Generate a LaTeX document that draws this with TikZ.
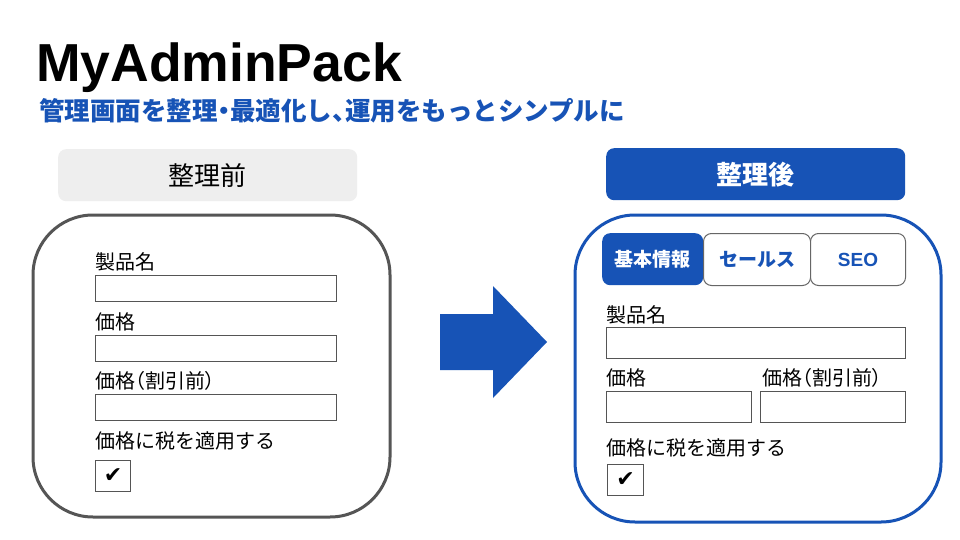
\documentclass[tikz,border=0pt]{standalone}
\usepackage{fontspec}
\usepackage{tikz}
\usepackage{xcolor}
\setmainfont{Liberation Sans}
\newfontfamily\jp{Noto Sans CJK JP}
\newfontfamily\sym{DejaVu Sans}
\usetikzlibrary{positioning}
\definecolor{MAP_Blue}{HTML}{1753B6}
\definecolor{MAP_Gray}{HTML}{555555}
\definecolor{MAP_Head}{HTML}{EEEEEE}
\newcommand{\narrow}[1]{{\addfontfeature{RawFeature=+palt}#1}}
\tikzset{
  fieldbox/.style={draw=MAP_Gray, line width=1pt, fill=white, anchor=north west, inner sep=0pt},
  fieldlabel/.style={font=\jp\fontsize{20}{20}\selectfont, inner sep=0pt, anchor=west},
  headbox/.style={rounded corners=8pt, anchor=north west, minimum width=299pt, minimum height=52pt, inner sep=0pt, font=\jp\fontsize{26}{26}\selectfont},
  tabbox/.style={rounded corners=8pt, anchor=north west, minimum height=52pt, inner sep=0pt, font=\jp\bfseries\fontsize{19}{19}\selectfont},
  panel/.style={line width=3pt, rounded corners=60pt},
  checkbox/.style={fieldbox, font=\sym\fontsize{22}{22}\selectfont}
}

\begin{document}
\begin{tikzpicture}[x=1pt, y=-1pt]
  \useasboundingbox[fill=white] (0,0) rectangle (960,540);

  \node[anchor=base west, inner sep=0pt, font=\bfseries\fontsize{53.5}{53.5}\selectfont] (title) at (36,82) {MyAdminPack};
  \node[anchor=west, inner sep=0pt, text=MAP_Blue, font=\jp\bfseries\fontsize{25.5}{25.5}\selectfont] (subtitle) at (39,111) {管理画面を整理\narrow{・}最適化し\narrow{、}運用をもっとシンプルに};

  \node[headbox, fill=MAP_Head] (beforeHead) at (58,149) {整理前};
  \node[headbox, fill=MAP_Blue, text=white, font=\jp\bfseries\fontsize{26}{26}\selectfont] (afterHead) at (606,148) {整理後};

  \draw[panel, MAP_Gray] (33,215) rectangle (390,517);
  \draw[panel, MAP_Blue] (575,215) rectangle (941,522);

  \foreach \y/\txt/\nm in {262/製品名/Name, 322/価格/Price, 381/{\narrow{価格（割引前）}}/List} {
    \node[fieldlabel] (old\nm Label) at (95,\y) {\txt};
    \node[fieldbox, minimum width=241pt, minimum height=26pt] (old\nm Box) at (95,{\y+13}) {};
  }
  \node[fieldlabel] (oldTaxLabel) at (95,441) {価格に税を適用する};
  \node[checkbox, minimum width=35pt, minimum height=31pt] (oldTaxBox) at (95,460) {✔};

  \fill[MAP_Blue] (440,314) -- (493,314) -- (493,286) -- (547,342) -- (493,398) -- (493,370) -- (440,370) -- cycle;

  \node[tabbox, fill=MAP_Blue, text=white, minimum width=101pt] (tabBasic) at (602,233) {基本情報};
  \node[tabbox, draw=MAP_Gray!90, fill=white, text=MAP_Blue, line width=1pt, minimum width=107pt] (tabSales) at (703,233) {セールス};
  \node[tabbox, draw=MAP_Gray!90, fill=white, text=MAP_Blue, line width=1pt, minimum width=95pt, font=\bfseries\fontsize{19}{19}\selectfont] (tabSeo) at (810,233) {SEO};

  \node[fieldlabel] (newNameLabel) at (606,315) {製品名};
  \node[fieldbox, minimum width=299pt, minimum height=31pt] (newNameBox) at (606,327) {};
  \node[fieldlabel] (newPriceLabel) at (606,378) {価格};
  \node[fieldlabel] (newListLabel) at (762,378) {\narrow{価格（割引前）}};
  \node[fieldbox, minimum width=145pt, minimum height=31pt] (newPriceBox) at (606,391) {};
  \node[fieldbox, minimum width=145pt, minimum height=31pt] (newListBox) at (760,391) {};
  \node[fieldlabel] (newTaxLabel) at (606,448) {価格に税を適用する};
  \node[checkbox, minimum width=36pt, minimum height=31pt] (newTaxBox) at (607,464) {✔};
\end{tikzpicture}
\end{document}
